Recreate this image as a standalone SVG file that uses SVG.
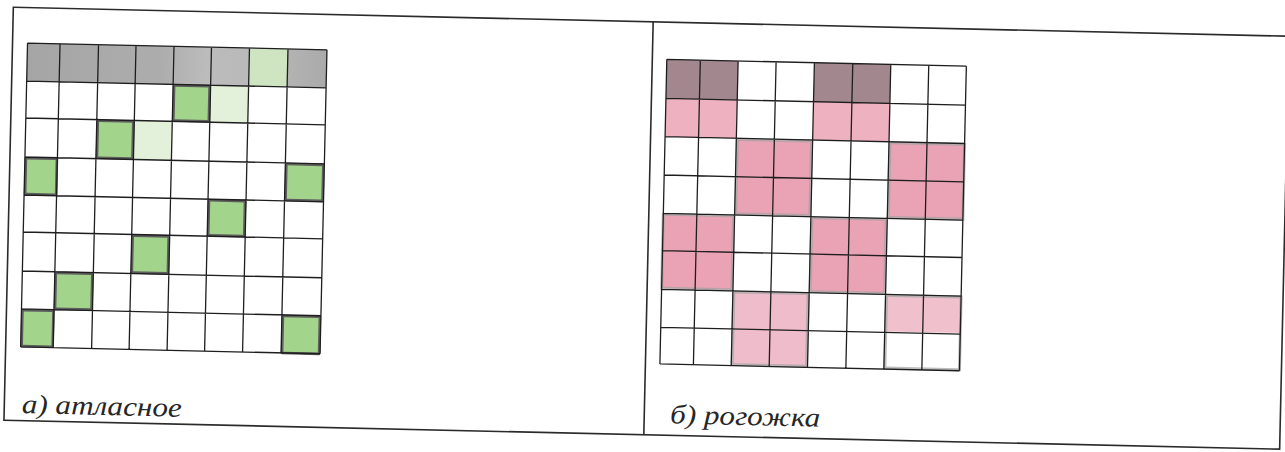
<svg xmlns="http://www.w3.org/2000/svg" width="1285" height="452" viewBox="0 0 1285 452">
<defs>
<style>
.frame{fill:none;stroke:#2b2b2b;stroke-width:1.6}
.grid{fill:none;stroke:#1e1e1e;stroke-width:1.3}
.green{fill:#a3d48b;stroke:#5e5e5e;stroke-width:2.6;stroke-linejoin:round}
.faint{fill:#e3f0da}
.pink{fill:#eaa2b5;stroke:#a3a3a3;stroke-width:3;stroke-opacity:0.7}
.pinkl{fill:#efbccb;stroke:#a3a3a3;stroke-width:3;stroke-opacity:0.7}
.mauve{fill:#a2878f}
.label{font-family:"Liberation Serif","Times New Roman",serif;font-style:italic;font-size:27px;fill:#262626}
</style>
<linearGradient id="grayrow" x1="0" y1="0" x2="1" y2="0">
<stop offset="0" stop-color="#a5a5a5"/>
<stop offset="0.45" stop-color="#adadad"/>
<stop offset="0.6" stop-color="#bcbcbc"/>
<stop offset="0.8" stop-color="#b8b8b8"/>
<stop offset="1" stop-color="#aaaaaa"/>
</linearGradient>
</defs>
<rect x="0" y="0" width="1285" height="452" fill="#ffffff"/>
<g transform="rotate(1.3)">
<g id="table">
<rect class="frame" x="13.5" y="7" width="1276" height="413"/>
<line class="frame" x1="653.5" y1="7" x2="653.5" y2="420"/>
</g>
<g id="satin">
<rect x="28.5" y="42.4" width="299.5" height="38" fill="url(#grayrow)"/>
<rect x="250.5" y="42.4" width="38.5" height="38" fill="#cfe5c2"/>
<rect class="faint" x="212.5" y="80.4" width="38" height="37"/>
<rect class="faint" x="137" y="117.4" width="38" height="39"/>
<rect class="green" x="176" y="81.5" width="35.5" height="35"/>
<rect class="green" x="100.5" y="118.5" width="35.5" height="37"/>
<rect class="green" x="29.5" y="157.5" width="31" height="36"/>
<rect class="green" x="290" y="157.5" width="37" height="36"/>
<rect class="green" x="213.5" y="195.5" width="36" height="35"/>
<rect class="green" x="138" y="232.5" width="36" height="37"/>
<rect class="green" x="62" y="271.5" width="36.5" height="36"/>
<rect class="green" x="29.5" y="309.5" width="31" height="36"/>
<rect class="green" x="290" y="309.5" width="37" height="37"/>
<path class="grid" d="M28.5 42.4V346.4M61 42.4V346.4M99.5 42.4V346.4M137 42.4V346.4M175 42.4V346.4M212.5 42.4V346.4M250.5 42.4V346.4M289 42.4V346.4M328 42.4V346.4M28.5 42.4H328M28.5 80.4H328M28.5 117.4H328M28.5 156.4H328M28.5 194.4H328M28.5 231.4H328M28.5 270.4H328M28.5 308.4H328M28.5 346.4H328"/>
<text class="label" x="31" y="412.5" textLength="160" lengthAdjust="spacingAndGlyphs">а) атласное</text>
</g>
<g id="rogozhka">
<rect class="mauve" x="668" y="44.2" width="71.3" height="39"/>
<rect class="mauve" x="815.6" y="44.2" width="76.4" height="39"/>
<rect x="668" y="83.2" width="71.3" height="38.4" fill="#eeb1c0"/>
<rect x="815.6" y="83.2" width="76.4" height="38.4" fill="#eeb1c0"/>
<rect class="pink" x="740.3" y="122.6" width="74.3" height="74.6"/>
<rect class="pink" x="893" y="122.6" width="74.6" height="74.6"/>
<rect class="pink" x="668" y="199.2" width="70.3" height="74"/>
<rect class="pink" x="816.6" y="199.2" width="74.4" height="74"/>
<rect class="pinkl" x="740.3" y="275.2" width="74.3" height="72.7"/>
<rect x="893" y="275.2" width="74.6" height="36" fill="#f0c1cd"/>
<rect x="893" y="275.2" width="74.6" height="72.7" fill="none" stroke="#a3a3a3" stroke-width="3" stroke-opacity="0.7"/>
<path class="grid" d="M668 44.2V348.9M701.5 44.2V348.9M739.3 44.2V348.9M777.3 44.2V348.9M815.6 44.2V348.9M854 44.2V348.9M892 44.2V348.9M930 44.2V348.9M967.6 44.2V348.9M668 44.2H967.6M668 83.2H967.6M668 121.6H967.6M668 159.9H967.6M668 198.2H967.6M668 235.6H967.6M668 274.2H967.6M668 312.2H967.6M668 348.9H967.6"/>
<text class="label" x="679.5" y="408" textLength="150" lengthAdjust="spacingAndGlyphs">б) рогожка</text>
</g>
</g>
</svg>
